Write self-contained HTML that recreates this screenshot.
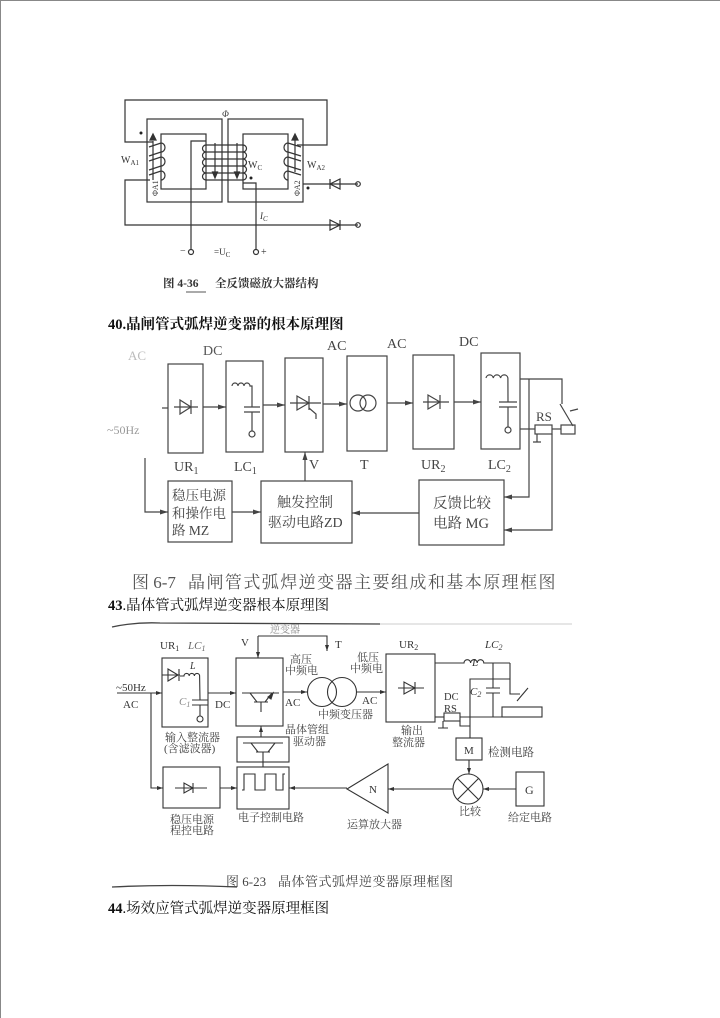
<!DOCTYPE html>
<html><head><meta charset="utf-8"><style>
html,body{margin:0;padding:0;background:#fff;}
svg{display:block;}
.s{font-family:"Liberation Serif","Noto Serif CJK SC",serif;}
.c{font-family:"Liberation Serif","Noto Serif CJK SC",serif;}
</style></head><body>
<svg width="720" height="1018" viewBox="0 0 720 1018" xmlns="http://www.w3.org/2000/svg">
<defs>
<marker id="a" markerWidth="8" markerHeight="6" refX="8" refY="3" orient="auto" markerUnits="userSpaceOnUse"><path d="M0,0.5 L8,3 L0,5.5 z" fill="#444"/></marker>
<marker id="b" markerWidth="6" markerHeight="5" refX="6" refY="2.5" orient="auto" markerUnits="userSpaceOnUse"><path d="M0,0.5 L6,2.5 L0,4.5 z" fill="#333"/></marker>
</defs>
<rect x="0.5" y="0.5" width="730" height="1030" fill="none" stroke="#888" stroke-width="1"/>

<!-- ============ Diagram 1 ============ -->
<g stroke="#333" fill="none" stroke-width="1.2">
<polyline points="153,142 125,142 125,100 327,100 327,145 297,145"/>
<rect x="147" y="119" width="75" height="83"/>
<rect x="161" y="134" width="45" height="55"/>
<rect x="228" y="119" width="75" height="83"/>
<rect x="243" y="134" width="45" height="55"/>
<!-- WA1 -->
<path d="M149,147 L161,143 A4,4.5 0 0 1 161,152 L149,156 M149,161 L161,157 A4,4.5 0 0 1 161,166 L149,170 M149,175 L161,171 A4,4.5 0 0 1 161,180"/>
<line x1="153" y1="180" x2="153" y2="141"/>
<path d="M150,140 L153,134 L156,140 z" fill="#333"/>
<polyline points="150,180 125,180 125,225 358,225"/>
<!-- WA2 -->
<path d="M301,147 L288,143 A4,4.5 0 0 0 288,152 L301,156 M301,161 L288,157 A4,4.5 0 0 0 288,166 L301,170 M301,175 L288,171 A4,4.5 0 0 0 288,180"/>
<line x1="295" y1="172" x2="295" y2="140"/>
<path d="M292,140 L295,134 L298,140 z" fill="#333"/>
<line x1="303" y1="184" x2="358" y2="184"/>
<!-- WC -->
<path d="M206,145 L243,145 M206,152 L243,152 M206,159 L243,159 M206,166 L243,166 M206,173 L243,173 M206,180 L243,180"/>
<path d="M206,145 A3.5,3.5 0 0 0 206,152 A3.5,3.5 0 0 0 206,159 A3.5,3.5 0 0 0 206,166 A3.5,3.5 0 0 0 206,173 A3.5,3.5 0 0 0 206,180"/>
<path d="M243,145 A3.5,3.5 0 0 1 243,152 A3.5,3.5 0 0 1 243,159 A3.5,3.5 0 0 1 243,166 A3.5,3.5 0 0 1 243,173 A3.5,3.5 0 0 1 243,180"/>
<line x1="215" y1="143" x2="215" y2="174"/>
<path d="M212.5,172 L215,178 L217.5,172 z" fill="#333"/>
<line x1="237" y1="143" x2="237" y2="174"/>
<path d="M234.5,172 L237,178 L239.5,172 z" fill="#333"/>
<polyline points="206,141 191,141 191,249"/>
<polyline points="243,183 256,183 256,249"/>
<circle cx="191" cy="252" r="2.5"/>
<circle cx="256" cy="252" r="2.5"/>
<circle cx="358" cy="184" r="2.3"/>
<circle cx="358" cy="225" r="2.3"/>
<!-- diodes -->
<path d="M330,184 L340,179 L340,189 z M330,179 L330,189"/>
<path d="M330,220 L330,230 L340,225 z M340,220 L340,230"/>
</g>
<g fill="#222">
<circle cx="141" cy="133" r="1.5"/><circle cx="251" cy="178" r="1.5"/><circle cx="308" cy="188" r="1.5"/>
</g>
<g class="s" fill="#333" font-size="10">
<text x="222" y="117" font-style="italic" font-size="9">Φ</text>
<text x="121" y="163">W<tspan font-size="7" dy="2">A1</tspan></text>
<text x="248" y="168">W<tspan font-size="7" dy="2">C</tspan></text>
<text x="307" y="168">W<tspan font-size="7" dy="2">A2</tspan></text>
<text transform="translate(158,196) rotate(-90)" font-size="8">ΦA1</text>
<text transform="translate(300,196) rotate(-90)" font-size="8">ΦA2</text>
<text x="260" y="219" font-style="italic" font-size="9">I<tspan font-size="7" dy="2">C</tspan></text>
<text x="180" y="254">−</text>
<text x="214" y="255" font-size="9">=U<tspan font-size="7" dy="2">C</tspan></text>
<text x="261" y="255">+</text>
</g>
<text x="163" y="287" class="c" font-size="11.5" font-weight="bold" fill="#333">图 4-36<tspan x="215">全反馈磁放大器结构</tspan></text>
<line x1="186" y1="292" x2="206" y2="292" stroke="#555" stroke-width="1"/>

<!-- Heading 40 -->
<text x="108" y="329" class="c" font-size="14.5" font-weight="bold" fill="#111">40.晶闸管式弧焊逆变器的根本原理图</text>

<!-- ============ Diagram 2 ============ -->
<g stroke="#444" fill="none" stroke-width="1.2">
<rect x="168" y="364" width="35" height="89"/>
<rect x="226" y="361" width="37" height="91"/>
<rect x="285" y="358" width="38" height="94"/>
<rect x="347" y="356" width="40" height="95"/>
<rect x="413" y="355" width="41" height="94"/>
<rect x="481" y="353" width="39" height="96"/>
<line x1="162" y1="408" x2="168" y2="408"/>
<line x1="203" y1="407" x2="226" y2="407" marker-end="url(#a)"/>
<line x1="263" y1="405" x2="285" y2="405" marker-end="url(#a)"/>
<line x1="323" y1="404" x2="347" y2="404" marker-end="url(#a)"/>
<line x1="387" y1="403" x2="413" y2="403" marker-end="url(#a)"/>
<line x1="454" y1="402" x2="481" y2="402" marker-end="url(#a)"/>
<!-- UR1 diode -->
<path d="M174,407 L198,407 M180,400 L180,414 L191,407 z M191,400 L191,414"/>
<!-- LC1 -->
<path d="M232,386 a3,3 0 0 1 6,0 a3,3 0 0 1 6,0 a3,3 0 0 1 6,0 L252,386 L252,407 M244,407 L260,407 M244,412 L260,412 M252,412 L252,431"/>
<circle cx="252" cy="434" r="3"/>
<!-- V thyristor -->
<path d="M290,403 L321,403 M297,396 L297,410 L309,403 z M309,396 L309,410 M309,408 L316,414 L316,419"/>
<!-- T -->
<circle cx="358" cy="403" r="8"/><circle cx="368" cy="403" r="8"/>
<!-- UR2 diode -->
<path d="M423,402 L449,402 M428,395 L428,409 L440,402 z M440,395 L440,409"/>
<!-- LC2 -->
<path d="M486,378 a3.7,3.7 0 0 1 7.3,0 a3.7,3.7 0 0 1 7.3,0 a3.7,3.7 0 0 1 7.3,0 L508,402 M499,402 L517,402 M499,407 L517,407 M508,407 L508,427"/>
<circle cx="508" cy="430" r="3"/>
<!-- outputs -->
<polyline points="520,379 562,379 562,404"/>
<path d="M560,404 L573,426 M570,411 L578,409"/>
<polyline points="520,429 535,429"/>
<rect x="535" y="425" width="17" height="9"/>
<line x1="552" y1="429" x2="561" y2="429"/>
<rect x="561" y="425" width="14" height="9"/>
<path d="M537,434 L537,442 M533,442 L541,442"/>
<polyline points="529,379 529,497 504,497" marker-end="url(#a)"/>
<polyline points="552,434 552,530 504,530" marker-end="url(#a)"/>
<!-- lower row -->
<rect x="168" y="481" width="64" height="61"/>
<rect x="261" y="481" width="91" height="62"/>
<rect x="419" y="480" width="85" height="65"/>
<polyline points="145,458 145,512 168,512" marker-end="url(#a)"/>
<line x1="232" y1="512" x2="261" y2="512" marker-end="url(#a)"/>
<line x1="419" y1="513" x2="352" y2="513" marker-end="url(#a)"/>
<line x1="305" y1="481" x2="305" y2="452" marker-end="url(#a)"/>
</g>
<g class="s" fill="#444" font-size="14">
<text x="128" y="360" fill="#bbb" font-size="13">AC</text>
<text x="203" y="355" fill="#555">DC</text>
<text x="327" y="350">AC</text>
<text x="387" y="348">AC</text>
<text x="459" y="346">DC</text>
<text x="107" y="434" fill="#999" font-size="12">~50Hz</text>
<text x="174" y="471">UR<tspan font-size="10" dy="3">1</tspan></text>
<text x="234" y="471">LC<tspan font-size="10" dy="3">1</tspan></text>
<text x="309" y="469">V</text>
<text x="360" y="469">T</text>
<text x="421" y="469">UR<tspan font-size="10" dy="3">2</tspan></text>
<text x="488" y="469">LC<tspan font-size="10" dy="3">2</tspan></text>
<text x="536" y="421" font-size="13">RS</text>
</g>
<g class="c" fill="#444" font-size="13.5">
<text x="172" y="500">稳压电源</text>
<text x="172" y="518">和操作电</text>
<text x="172" y="535">路 MZ</text>
<text x="277" y="507" font-size="14">触发控制</text>
<text x="268" y="527" font-size="14">驱动电路ZD</text>
<text x="433" y="508" font-size="14.5">反馈比较</text>
<text x="433" y="528" font-size="14.5">电路 MG</text>
</g>
<text x="132" y="588" class="c" font-size="17" fill="#555">图 6-7<tspan x="188" letter-spacing="1.45">晶闸管式弧焊逆变器主要组成和基本原理框图</tspan></text>

<!-- Heading 43 -->
<text x="108" y="610" class="c" font-size="14.5" fill="#111"><tspan font-weight="bold">43</tspan>.晶体管式弧焊逆变器根本原理图</text>

<!-- ============ Diagram 3 ============ -->
<path d="M112,627 Q135,622 160,623 L380,624" stroke="#444" stroke-width="1.3" fill="none"/>
<line x1="380" y1="624" x2="572" y2="624" stroke="#ccc" stroke-width="1"/>
<path d="M112,887 Q170,884 237,887" stroke="#444" stroke-width="1.3" fill="none"/>
<g stroke="#333" fill="none" stroke-width="1.1">
<rect x="162" y="658" width="46" height="69"/>
<rect x="236" y="658" width="47" height="68"/>
<rect x="386" y="654" width="49" height="68"/>
<rect x="237" y="737" width="52" height="25"/>
<rect x="163" y="767" width="57" height="41"/>
<rect x="237" y="767" width="52" height="42"/>
<rect x="456" y="738" width="26" height="22"/>
<rect x="516" y="772" width="28" height="34"/>
<rect x="502" y="707" width="40" height="10"/>
<!-- UR1/LC1 internals -->
<path d="M162,675 L180,675 M168,669 L168,681 L178,675 z M179,669 L179,681"/>
<path d="M180,676 L184,676 a2.6,2.6 0 0 1 5.2,0 a2.6,2.6 0 0 1 5.2,0 a2.6,2.6 0 0 1 5.2,0 L200,700 M192,700 L208,700 M192,705 L208,705 M200,705 L200,716"/>
<circle cx="200" cy="719" r="3"/>
<!-- V transistor -->
<path d="M242,693 L279,693 M250,693 L257,702 M272,693 L265,702 M254,702 L268,702 M261,702 L261,712"/>
<path d="M268,697 L273,693 L271,699 z" fill="#333"/>
<!-- drive transistor -->
<path d="M243,743 L283,743 M251,743 L258,752 M275,743 L268,752 M256,752 L270,752 M263,752 L263,762"/>
<!-- square wave -->
<polyline points="242,790 244,790 244,774 255,774 255,790 265,790 265,774 276,774 276,790 283,790 283,774 285,774"/>
<!-- regulated supply diode -->
<path d="M175,788 L207,788 M184,783 L184,793 L193,788 z M193,783 L193,793"/>
<!-- UR2 diode -->
<path d="M398,688 L424,688 M404,682 L404,694 L415,688 z M415,682 L415,694"/>
<!-- transformer -->
<circle cx="322" cy="692" r="14.5"/><circle cx="342" cy="692" r="14.5"/>
<!-- connections -->
<line x1="117" y1="693" x2="162" y2="693" marker-end="url(#b)"/>
<polyline points="151,693 151,788 163,788" marker-end="url(#b)"/>
<line x1="208" y1="693" x2="236" y2="693" marker-end="url(#b)"/>
<line x1="283" y1="692" x2="307" y2="692" marker-end="url(#b)"/>
<line x1="357" y1="692" x2="386" y2="692" marker-end="url(#b)"/>
<line x1="220" y1="788" x2="237" y2="788" marker-end="url(#b)"/>
<polyline points="258,636 258,658" marker-end="url(#b)"/>
<polyline points="258,636 327,636 327,651" marker-end="url(#b)"/>
<line x1="261" y1="737" x2="261" y2="726" marker-end="url(#b)"/>
<line x1="263" y1="762" x2="263" y2="767"/>
<!-- output section -->
<path d="M435,663 L464,663 a3.3,3.3 0 0 1 6.6,0 a3.3,3.3 0 0 1 6.6,0 a3.3,3.3 0 0 1 6.6,0 L510,663 M493,663 L493,688 M486,688 L500,688 M486,693 L500,693 M493,693 L493,717"/>
<polyline points="510,663 510,694 520,694"/>
<line x1="517" y1="701" x2="528" y2="688"/>
<polyline points="470,738 470,679 510,679"/>
<line x1="435" y1="717" x2="444" y2="717"/>
<rect x="444" y="713" width="16" height="8"/>
<line x1="460" y1="717" x2="502" y2="717"/>
<polyline points="460,721 460,726 470,726"/>
<path d="M443,721 L443,728 M438,728 L448,728"/>
<!-- feedback -->
<line x1="469" y1="760" x2="469" y2="774" marker-end="url(#b)"/>
<circle cx="468" cy="789" r="15"/>
<path d="M457.4,778.4 L478.6,799.6 M478.6,778.4 L457.4,799.6"/>
<line x1="516" y1="789" x2="483" y2="789" marker-end="url(#b)"/>
<line x1="453" y1="789" x2="388" y2="789" marker-end="url(#b)"/>
<polygon points="347,789 388,764 388,813"/>
<line x1="347" y1="788" x2="289" y2="788" marker-end="url(#b)"/>
</g>
<g class="s" fill="#333" font-size="11">
<text x="116" y="691">~50Hz</text>
<text x="123" y="708">AC</text>
<text x="160" y="649">UR<tspan font-size="8" dy="2">1</tspan></text>
<text x="188" y="649" font-style="italic" fill="#666">LC<tspan font-size="8" dy="2">1</tspan></text>
<text x="190" y="669" font-style="italic" font-size="10">L</text>
<text x="179" y="705" font-style="italic" fill="#888">C<tspan font-size="8" dy="2">1</tspan></text>
<text x="215" y="708">DC</text>
<text x="241" y="646">V</text>
<text x="335" y="648">T</text>
<text x="285" y="706">AC</text>
<text x="362" y="704">AC</text>
<text x="399" y="648">UR<tspan font-size="8" dy="2">2</tspan></text>
<text x="485" y="648" font-style="italic">LC<tspan font-size="8" dy="2">2</tspan></text>
<text x="472" y="666" font-style="italic">L</text>
<text x="470" y="695" font-style="italic">C<tspan font-size="8" dy="2">2</tspan></text>
<text x="444" y="700" font-size="10.5">DC</text>
<text x="444" y="712" font-size="10.5">RS</text>
<text x="464" y="754" font-size="11">M</text>
<text x="525" y="794" font-size="12">G</text>
<text x="369" y="793" font-size="11">N</text>
</g>
<g class="c" fill="#444" font-size="11">
<text x="270" y="633" font-size="10" fill="#888">逆变器</text>
<text x="290" y="663">高压</text>
<text x="285" y="674">中频电</text>
<text x="357" y="661">低压</text>
<text x="350" y="672">中频电</text>
<text x="318" y="718">中频变压器</text>
<text x="285" y="733">晶体管组</text>
<text x="293" y="745">驱动器</text>
<text x="165" y="741">输入整流器</text>
<text x="164" y="752">(含滤波器)</text>
<text x="401" y="734">输出</text>
<text x="392" y="746">整流器</text>
<text x="488" y="756" font-size="11.5">检测电路</text>
<text x="170" y="823">稳压电源</text>
<text x="170" y="834">程控电路</text>
<text x="238" y="821">电子控制电路</text>
<text x="459" y="815">比较</text>
<text x="508" y="821">给定电路</text>
<text x="347" y="828">运算放大器</text>
</g>
<text x="226" y="886" class="c" font-size="13" fill="#444">图 6-23<tspan x="278" letter-spacing="0.5">晶体管式弧焊逆变器原理框图</tspan></text>

<!-- Heading 44 -->
<text x="108" y="913" class="c" font-size="14.5" fill="#111"><tspan font-weight="bold">44</tspan>.场效应管式弧焊逆变器原理框图</text>
</svg>
</body></html>
